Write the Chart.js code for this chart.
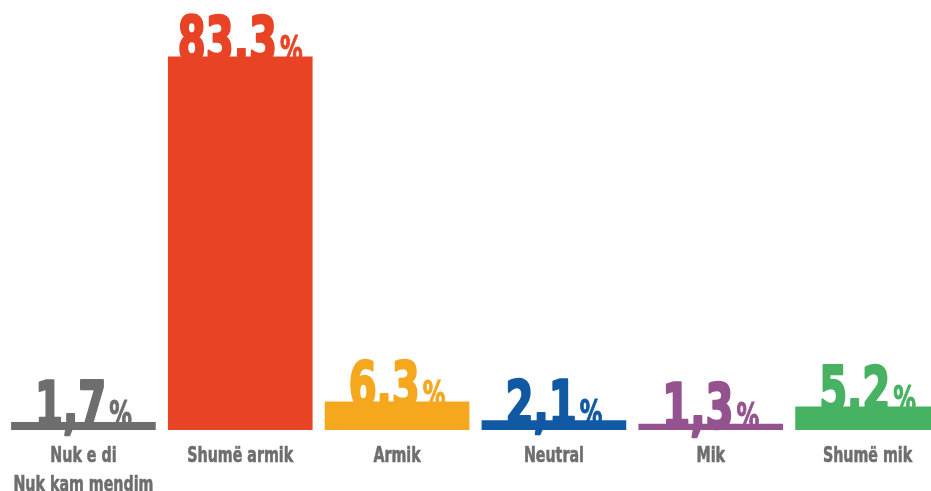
<!DOCTYPE html>
<html>
<head>
<meta charset="utf-8">
<script src="https://cdn.jsdelivr.net/npm/chart.js@4"></script>
<style>
  html, body { margin: 0; padding: 0; background: #fff; overflow: hidden; }
  #wrap { width: 931px; height: 491px; overflow: hidden; }
</style>
</head>
<body>
<div id="wrap"><canvas id="chart" width="946" height="491"></canvas></div>
<script>
// Data
const categories = [['Nuk e di', 'Nuk kam mendim'], 'Shumë armik', 'Armik', 'Neutral', 'Mik', 'Shumë mik'];
const values = [1.7, 83.3, 6.3, 2.1, 1.3, 5.2];
const valueLabels = ['1,7', '83,3', '6,3', '2,1', '1,3', '5,2'];
const barColors = ['#6e6e6e', '#e94325', '#f5a71e', '#1259a4', '#94538f', '#47b262'];
const labelColor = '#6e6e6e';

const FONT = '"DejaVu Sans Condensed", "DejaVu Sans", sans-serif';
const SQUEEZE = 0.72; // narrow the glyphs to look like a condensed face

// write text squeezed horizontally, starting at x (left aligned)
function squeezedText(ctx, text, x, y, thicken) {
    ctx.save();
    ctx.translate(x, y);
    ctx.scale(SQUEEZE, 1);
    ctx.fillText(text, 0, 0);
    if (thicken) {
        ctx.lineWidth = thicken;
        ctx.lineJoin = 'round';
        ctx.strokeText(text, 0, 0);
    }
    ctx.restore();
}

// big value labels go under the bars so the bar tops cover their feet
const valueLabelPlugin = {
    id: 'valueLabels',
    beforeDatasetsDraw(chart) {
        const ctx = chart.ctx;
        const bars = chart.getDatasetMeta(0).data;
        ctx.save();
        ctx.textBaseline = 'alphabetic';
        ctx.textAlign = 'left';
        bars.forEach((bar, i) => {
            const num = valueLabels[i];
            ctx.font = 'bold 62px ' + FONT;
            const wNum = ctx.measureText(num).width * SQUEEZE;
            ctx.font = 'bold 35px ' + FONT;
            const wPct = ctx.measureText('%').width * SQUEEZE;
            const gap = 3;
            const left = bar.x - (wNum + gap + wPct) / 2;
            const base = bar.y + 4;
            ctx.fillStyle = barColors[i];
            ctx.strokeStyle = barColors[i];
            ctx.font = 'bold 62px ' + FONT;
            squeezedText(ctx, num, left, base, 2.5);
            ctx.font = 'bold 35px ' + FONT;
            squeezedText(ctx, '%', left + wNum + gap, base, 1);
        });
        ctx.restore();
    }
};

// category names, placed at the x scale's own tick positions
const categoryLabelPlugin = {
    id: 'categoryLabels',
    afterDraw(chart) {
        const ctx = chart.ctx;
        const xScale = chart.scales.x;
        const bottom = chart.chartArea.bottom;
        ctx.save();
        ctx.fillStyle = labelColor;
        ctx.strokeStyle = labelColor;
        ctx.font = 'bold 22px ' + FONT;
        ctx.textBaseline = 'alphabetic';
        ctx.textAlign = 'left';
        categories.forEach((cat, i) => {
            const lines = Array.isArray(cat) ? cat : [cat];
            const cx = xScale.getPixelForValue(i);
            lines.forEach((line, j) => {
                const w = ctx.measureText(line).width * SQUEEZE;
                squeezedText(ctx, line, cx - w / 2, bottom + 32 + j * 29, 0.6);
            });
        });
        ctx.restore();
    }
};

const ctx = document.getElementById('chart').getContext('2d');
new Chart(ctx, {
    type: 'bar',
    data: {
        labels: categories,
        datasets: [{
            data: values,
            backgroundColor: barColors,
            borderWidth: 0,
            barThickness: 144,
        }],
    },
    options: {
        responsive: false,
        animation: false,
        layout: { padding: { left: 5, right: 0, top: 0, bottom: 0 } },
        plugins: {
            legend: { display: false },
            tooltip: { enabled: false },
        },
        scales: {
            x: {
                grid: { display: false },
                border: { display: false },
                ticks: { display: false },
                afterFit(scale) {
                    scale.height = 61;
                    scale.paddingLeft = 0;
                    scale.paddingRight = 0;
                },
            },
            y: {
                display: false,
                min: 0,
                max: 96,
            },
        },
    },
    plugins: [valueLabelPlugin, categoryLabelPlugin],
});
</script>
</body>
</html>
